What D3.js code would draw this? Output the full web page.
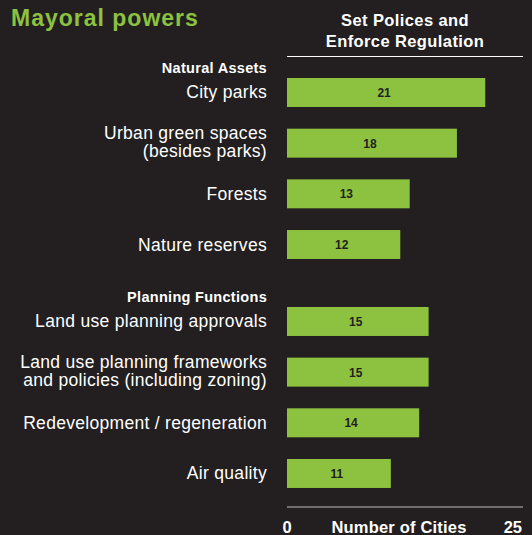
<!DOCTYPE html>
<html>
<head>
<meta charset="utf-8">
<script src="https://cdn.jsdelivr.net/npm/d3@7"></script>
<style>
  html, body { margin: 0; padding: 0; background: #231f20; }
  svg { display: block; font-family: "Liberation Sans", Arial, Helvetica, sans-serif; }
</style>
</head>
<body>
<svg id="chart" width="532" height="535"></svg>
<script>
// Powers data: category rows, their group and number of cities
const groups = ["Natural Assets", "Planning Functions"];
const categories = [
  "City parks",
  "Urban green spaces|(besides parks)",
  "Forests",
  "Nature reserves",
  "Land use planning approvals",
  "Land use planning frameworks|and policies (including zoning)",
  "Redevelopment / regeneration",
  "Air quality"
];
const categoryGroup = [0, 0, 0, 0, 1, 1, 1, 1];
const cityCounts = [21, 18, 13, 12, 15, 15, 14, 11];
const axisTicks = [0, 25];

const BG = "#231f20";
const GREEN = "#8cc23f";
const WHITE = "#ffffff";

const svg = d3.select("#chart");

// Horizontal scale: number of cities
const x = d3.scaleLinear().domain([0, 25]).range([287, 523]);

// Vertical band scale for the rows, with extra space before the second group header
const step = 50.67;
const padIn = 0.428;
const padOut = padIn / 2;
const r0 = 78 - padOut * step;
const y = d3.scaleBand()
  .domain(categories)
  .range([r0, r0 + categories.length * step])
  .paddingInner(padIn)
  .paddingOuter(padOut);
const groupGap = 26.3;
const rowTop = (d, i) => y(d) + categoryGroup[i] * groupGap;
const rowMid = (d, i) => rowTop(d, i) + y.bandwidth() / 2;

// Title
svg.append("text")
  .attr("x", 11).attr("y", 26)
  .attr("fill", GREEN)
  .attr("font-size", 23).attr("font-weight", "bold")
  .attr("letter-spacing", 1.0)
  .text("Mayoral powers");

// Column header with underline
const header = svg.append("text")
  .attr("text-anchor", "middle")
  .attr("fill", WHITE)
  .attr("font-size", 16.5).attr("font-weight", "bold")
  .attr("letter-spacing", 0.4);
header.append("tspan").attr("x", 405).attr("y", 26).text("Set Polices and");
header.append("tspan").attr("x", 405).attr("y", 47).text("Enforce Regulation");
svg.append("line")
  .attr("x1", x(0)).attr("x2", x(25))
  .attr("y1", 56.5).attr("y2", 56.5)
  .attr("stroke", WHITE).attr("stroke-width", 1);

// Group headers
const firstOfGroup = groups.map((g, gi) => categoryGroup.indexOf(gi));
svg.selectAll("text.group")
  .data(groups)
  .join("text")
  .attr("class", "group")
  .attr("x", 267)
  .attr("y", (g, gi) => {
    const i = firstOfGroup[gi];
    return rowTop(categories[i], i) - 5;
  })
  .attr("text-anchor", "end")
  .attr("fill", WHITE)
  .attr("font-size", 14.5).attr("font-weight", "bold")
  .attr("letter-spacing", 0.3)
  .text(g => g);

// Category labels (one or two lines)
const labels = svg.selectAll("text.cat")
  .data(categories)
  .join("text")
  .attr("class", "cat")
  .attr("text-anchor", "end")
  .attr("fill", WHITE)
  .attr("font-size", 17.5)
  .attr("letter-spacing", 0.3);
labels.each(function (d, i) {
  const lines = d.split("|");
  const mid = rowMid(d, i);
  const sel = d3.select(this);
  if (lines.length === 1) {
    sel.append("tspan").attr("x", 267).attr("y", mid + 6).text(lines[0]);
  } else {
    sel.append("tspan").attr("x", 267).attr("y", mid - 4).text(lines[0]);
    sel.append("tspan").attr("x", 267).attr("y", mid + 14).text(lines[1]);
  }
});

// Bars
svg.selectAll("rect.bar")
  .data(cityCounts)
  .join("rect")
  .attr("class", "bar")
  .attr("x", x(0))
  .attr("y", (v, i) => rowTop(categories[i], i))
  .attr("width", v => x(v) - x(0))
  .attr("height", y.bandwidth())
  .attr("fill", GREEN);

// Value labels inside the bars
svg.selectAll("text.val")
  .data(cityCounts)
  .join("text")
  .attr("class", "val")
  .attr("x", v => (x(0) + x(v)) / 2 - 2)
  .attr("y", (v, i) => rowMid(categories[i], i) + 4.5)
  .attr("text-anchor", "middle")
  .attr("fill", BG)
  .attr("font-size", 12).attr("font-weight", "bold")
  .text(v => v);

// Bottom axis line and labels
svg.append("line")
  .attr("x1", x(0)).attr("x2", x(25))
  .attr("y1", 507).attr("y2", 507)
  .attr("stroke", "#bdbcbc").attr("stroke-width", 1.2);

svg.selectAll("text.tick")
  .data(axisTicks)
  .join("text")
  .attr("class", "tick")
  .attr("x", t => t === 0 ? x(t) : x(t) - 1)
  .attr("y", 533)
  .attr("text-anchor", t => t === 0 ? "middle" : "end")
  .attr("fill", WHITE)
  .attr("font-size", 16.5).attr("font-weight", "bold")
  .text(t => t);

svg.append("text")
  .attr("x", 399).attr("y", 533)
  .attr("text-anchor", "middle")
  .attr("fill", WHITE)
  .attr("font-size", 16.5).attr("font-weight", "bold")
  .attr("letter-spacing", 0.2)
  .text("Number of Cities");
</script>
</body>
</html>
